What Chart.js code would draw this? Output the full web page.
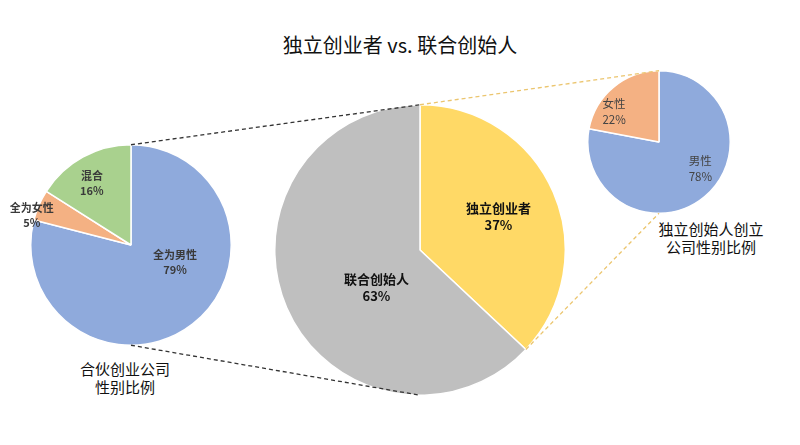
<!DOCTYPE html>
<html>
<head>
<meta charset="utf-8">
<script src="https://cdn.jsdelivr.net/npm/chart.js@4"></script>
<style>
  html, body { margin: 0; padding: 0; background: #fff; }
  #wrap { position: relative; width: 800px; height: 445px; overflow: hidden;
          font-family: "Noto Sans CJK SC", "Noto Sans", sans-serif; color: #111; }
  .pie { position: absolute; }
  .txt { position: absolute; text-align: center; white-space: nowrap; }
  #overlay { position: absolute; left: 0; top: 0; pointer-events: none; }
</style>
</head>
<body>
<div id="wrap">
  <div class="txt" style="left:0;width:800px;top:31px;font-size:20px;line-height:28px;">独立创业者 vs. 联合创始人</div>
  <div class="pie" style="left:30px;top:144px;width:202px;height:202px;"><canvas id="teamPie"></canvas></div>
  <div class="pie" style="left:274px;top:104px;width:292px;height:292px;"><canvas id="mainPie"></canvas></div>
  <div class="pie" style="left:587px;top:70px;width:144px;height:144px;"><canvas id="soloPie"></canvas></div>
  <div class="txt" style="left:45px;width:160px;top:360px;font-size:15px;line-height:18px;">合伙创业公司<br>性别比例</div>
  <div class="txt" style="left:631px;width:160px;top:220px;font-size:15px;line-height:18px;">独立创始人创立<br>公司性别比例</div>
  <canvas id="overlay" width="800" height="445"></canvas>
</div>
<script>
// ── data ──
const mainLabels = ['独立创业者', '联合创始人'];
const mainValues = [37, 63];
const teamLabels = ['全为男性', '全为女性', '混合'];
const teamValues = [79, 5, 16];
const soloLabels = ['男性', '女性'];
const soloValues = [78, 22];

const BLUE = '#8FAADC', ORANGE = '#F4B183', GREEN = '#A9D18E', GREY = '#BFBFBF', YELLOW = '#FFD966';

function makePie(id, labels, values, colors) {
  return new Chart(document.getElementById(id), {
    type: 'pie',
    data: {
      labels: labels,
      datasets: [{
        data: values,
        backgroundColor: colors,
        borderColor: '#ffffff',
        borderWidth: 1.5,
      }]
    },
    options: {
      responsive: true,
      maintainAspectRatio: false,
      animation: false,
      layout: { padding: 0 },
      plugins: { legend: { display: false }, tooltip: { enabled: false } }
    }
  });
}

const teamChart = makePie('teamPie', teamLabels, teamValues, [BLUE, ORANGE, GREEN]);
const mainChart = makePie('mainPie', mainLabels, mainValues, [YELLOW, GREY]);
const soloChart = makePie('soloPie', soloLabels, soloValues, [BLUE, ORANGE]);

// label anchors, as fractions of each pie's radius from its centre
const labelStyle = [
  { chart: teamChart, labels: teamLabels, values: teamValues, font: 'bold 11px "Noto Sans CJK SC"', color: '#3a3a3a', gap: 15,
    spots: [[0.44, 0.17], [-0.99, -0.30], [-0.39, -0.62]] },
  { chart: mainChart, labels: mainLabels, values: mainValues, font: 'bold 13px "Noto Sans CJK SC"', color: '#111', gap: 17,
    spots: [[0.54, -0.23], [-0.30, 0.26]] },
  { chart: soloChart, labels: soloLabels, values: soloValues, font: '11.5px "Noto Sans CJK SC"', color: '#444', gap: 16,
    spots: [[0.58, 0.37], [-0.63, -0.42]] },
];

function geom(chart) {
  const arc = chart.getDatasetMeta(0).data[0];
  const wr = document.getElementById('wrap').getBoundingClientRect();
  const cr = chart.canvas.getBoundingClientRect();
  return { x: cr.left - wr.left + arc.x, y: cr.top - wr.top + arc.y, r: arc.outerRadius };
}

function drawOverlay() {
  const cv = document.getElementById('overlay');
  const dpr = window.devicePixelRatio || 1;
  cv.width = 800 * dpr; cv.height = 445 * dpr;
  cv.style.width = '800px'; cv.style.height = '445px';
  const ctx = cv.getContext('2d');
  ctx.scale(dpr, dpr);

  const t = geom(teamChart), m = geom(mainChart), s = geom(soloChart);

  // connector lines
  function dashed(x1, y1, x2, y2, color) {
    ctx.save();
    ctx.strokeStyle = color;
    ctx.lineWidth = 1.3;
    ctx.setLineDash([4, 3]);
    ctx.beginPath();
    ctx.moveTo(x1, y1);
    ctx.lineTo(x2, y2);
    ctx.stroke();
    ctx.restore();
  }
  dashed(t.x, t.y - t.r, m.x, m.y - m.r, '#333');
  dashed(t.x, t.y + t.r, m.x, m.y + m.r, '#333');

  const yArc = mainChart.getDatasetMeta(0).data[0];
  const ex = m.x + m.r * Math.cos(yArc.endAngle), ey = m.y + m.r * Math.sin(yArc.endAngle);
  dashed(m.x, m.y - m.r, s.x, s.y - s.r, '#EBC56E');
  dashed(ex, ey, s.x, s.y + s.r, '#EBC56E');

  // slice labels
  labelStyle.forEach(ls => {
    const g = geom(ls.chart);
    ctx.font = ls.font;
    ctx.fillStyle = ls.color;
    ctx.textAlign = 'center';
    ctx.textBaseline = 'middle';
    ls.labels.forEach((lab, i) => {
      const cx = g.x + ls.spots[i][0] * g.r;
      const cy = g.y + ls.spots[i][1] * g.r;
      ctx.fillText(lab, cx, cy - ls.gap / 2);
      ctx.fillText(ls.values[i] + '%', cx, cy + ls.gap / 2);
    });
  });
}

drawOverlay();
</script>
</body>
</html>
